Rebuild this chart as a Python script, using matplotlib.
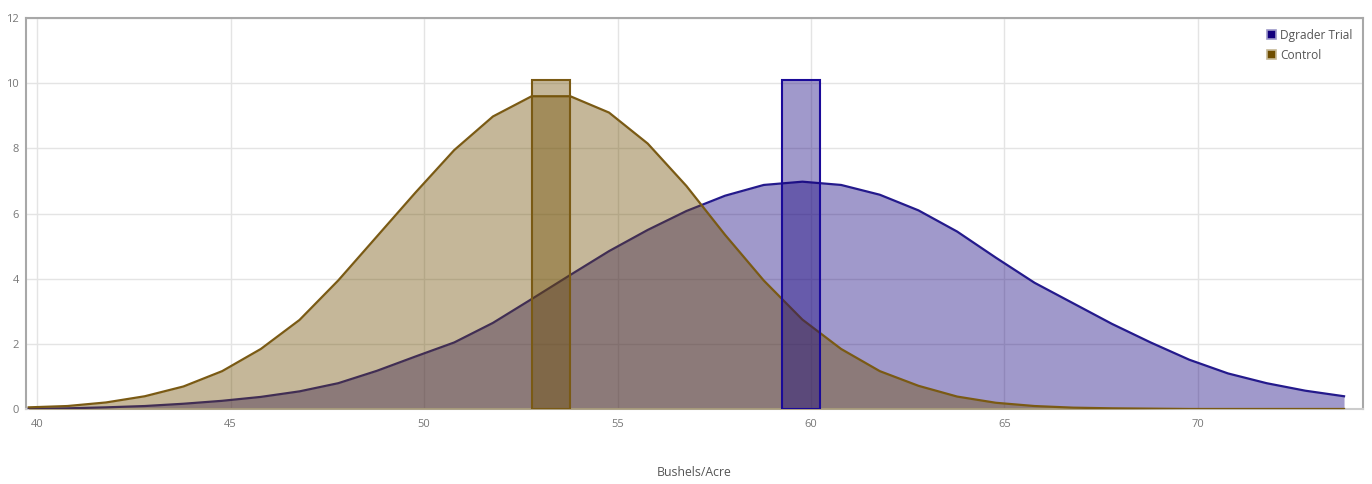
import matplotlib
matplotlib.use("Agg")
import matplotlib.pyplot as plt
from matplotlib.patches import Patch
import numpy as np

plt.rcParams['font.family'] = ['Open Sans', 'DejaVu Sans']

# x positions of the curve vertices (Bushels/Acre)
x_vals = [39.78, 40.78, 41.78, 42.78, 43.78, 44.78, 45.78, 46.78, 47.78, 48.78,
          49.78, 50.78, 51.78, 52.78, 53.78, 54.78, 55.78, 56.78, 57.78, 58.78,
          59.78, 60.78, 61.78, 62.78, 63.78, 64.78, 65.78, 66.78, 67.78, 68.78,
          69.78, 70.78, 71.78, 72.78, 73.78]

trial_vals = [0.02, 0.03, 0.06, 0.10, 0.17, 0.26, 0.38, 0.55, 0.80, 1.18,
              1.62, 2.05, 2.65, 3.38, 4.12, 4.85, 5.50, 6.08, 6.55, 6.88,
              6.98, 6.88, 6.58, 6.10, 5.45, 4.65, 3.88, 3.25, 2.62, 2.05,
              1.52, 1.10, 0.80, 0.57, 0.40]

control_vals = [0.06, 0.10, 0.21, 0.40, 0.70, 1.17, 1.85, 2.74, 3.95, 5.30,
                6.65, 7.95, 8.98, 9.60, 9.60, 9.10, 8.15, 6.85, 5.35, 3.95,
                2.75, 1.85, 1.17, 0.72, 0.39, 0.20, 0.10, 0.05, 0.03, 0.02,
                0.01, 0.01, 0.01, 0.01, 0.01]

series_names = ["Dgrader Trial", "Control"]
bar_centers = [59.74, 53.28]   # means
bar_heights = [10.1, 10.1]
bar_width = 1.0

x_ticks = [40, 45, 50, 55, 60, 65, 70]
y_ticks = [0, 2, 4, 6, 8, 10, 12]
x_label = "Bushels/Acre"

trial_color = "#13007d"
trial_line = "#241a8c"
control_color = "#6e4d00"
control_line = "#7a5a14"
alpha = 0.4

fig = plt.figure(figsize=(13.72, 4.84), dpi=100)
ax = fig.add_axes([26/1372, 1 - 409.3/484, (1363-26)/1372, (409.3-18)/484])

# Trial curve
ax.fill_between(x_vals, 0, trial_vals, color=trial_color, alpha=alpha, lw=0, zorder=2)
ax.plot(x_vals, trial_vals, color=trial_line, lw=1.6, zorder=3)
# Control curve
ax.fill_between(x_vals, 0, control_vals, color=control_color, alpha=alpha, lw=0, zorder=4)
ax.plot(x_vals, control_vals, color=control_line, lw=1.6, zorder=5)

# Mean bars
ax.bar([bar_centers[1]], [bar_heights[1]], width=bar_width, color=control_color,
       alpha=alpha, zorder=6, lw=0)
ax.bar([bar_centers[1]], [bar_heights[1]], width=bar_width, facecolor='none',
       edgecolor=control_line, lw=1.5, zorder=7)
ax.bar([bar_centers[0]], [bar_heights[0]], width=bar_width, color=trial_color,
       alpha=alpha, zorder=6, lw=0)
ax.bar([bar_centers[0]], [bar_heights[0]], width=bar_width, facecolor='none',
       edgecolor="#1a0a99", lw=1.5, zorder=7)

ax.set_xlim(39.71, 74.27)
ax.set_ylim(0, 12)
ax.set_xticks(x_ticks)
ax.set_yticks(y_ticks)
ax.tick_params(axis='both', length=0, labelsize=8, labelcolor='#777777')
ax.tick_params(axis='x', pad=7)
ax.tick_params(axis='y', pad=5)
ax.grid(True, color='#e4e4e4', lw=1, zorder=0)
ax.set_axisbelow(True)
for s in ax.spines.values():
    s.set_color('#a8a8a8')
    s.set_linewidth(1.5)
ax.spines['bottom'].set_color('#cccccc')

fig.text(694.5/1372, 1 - 473/484, x_label, fontsize=8.8, color='#555555',
         ha='center', va='center')

handles = [Patch(facecolor=trial_color, edgecolor='#9c98c8', lw=1.2, label=series_names[0]),
           Patch(facecolor=control_color, edgecolor='#c5b896', lw=1.2, label=series_names[1])]
leg = ax.legend(handles=handles, loc='upper right', frameon=False, fontsize=8.6,
                handlelength=0.8, handleheight=0.8, handletextpad=0.3,
                labelspacing=0.6, borderaxespad=0.5, labelcolor='#555555')

fig.savefig("out.png", dpi=100)
